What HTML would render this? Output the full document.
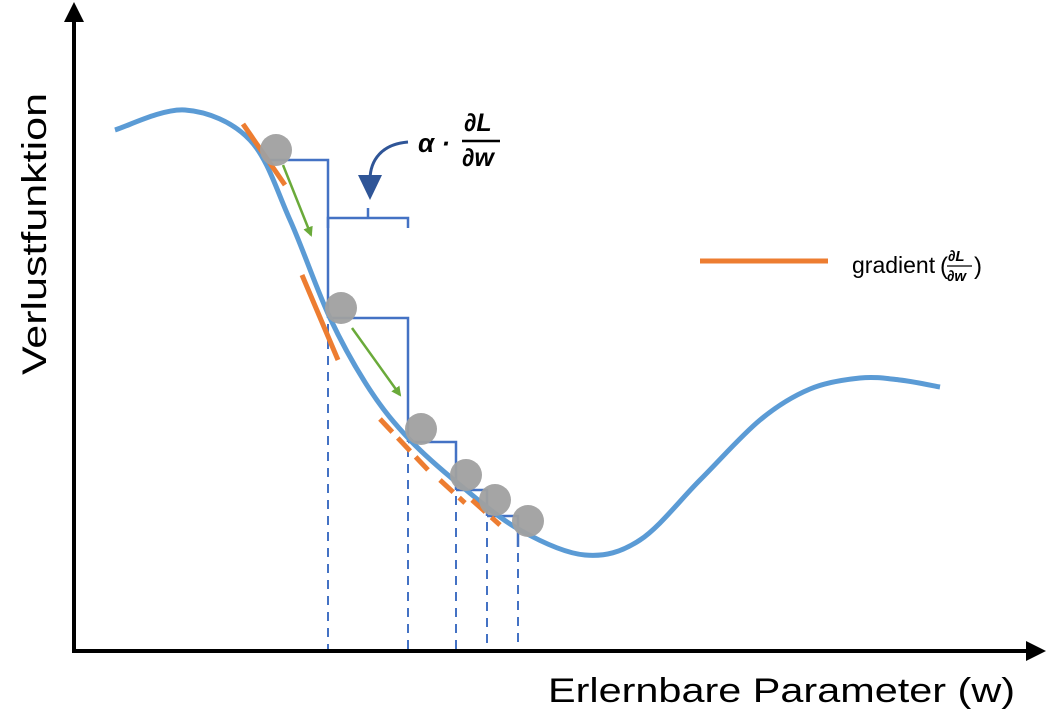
<!DOCTYPE html>
<html><head><meta charset="utf-8"><style>
html,body{margin:0;padding:0;background:#fff;width:1059px;height:720px;overflow:hidden}
svg{display:block}
text{font-family:"Liberation Sans",sans-serif}
</style></head><body>
<svg id="chart" width="1059" height="720" viewBox="0 0 1059 720">
<defs>
<marker id="ah" viewBox="0 0 10 10" refX="5" refY="5" markerWidth="5" markerHeight="5" orient="auto"><path d="M0,0L10,5L0,10z" fill="#000"/></marker>
<marker id="gh" viewBox="0 0 10 10" refX="8" refY="5" markerWidth="4" markerHeight="4" orient="auto"><path d="M0,0L10,5L0,10z" fill="#6aaa3a"/></marker>
</defs>
<g id="steps"></g>
<path id="curve" fill="none" stroke="#5b9bd5" stroke-width="5"/>
<g id="tangents"></g>
<g id="balls"></g>
<g id="arrows"></g>
<line x1="74" y1="652" x2="74" y2="12" stroke="#000" stroke-width="4" marker-end="url(#ah)"/>
<line x1="72" y1="651" x2="1036" y2="651" stroke="#000" stroke-width="4" marker-end="url(#ah)"/>
<text transform="translate(46,375) rotate(-90)" font-size="34" textLength="282" lengthAdjust="spacingAndGlyphs">Verlustfunktion</text>
<text x="548" y="702" font-size="34" textLength="467" lengthAdjust="spacingAndGlyphs">Erlernbare Parameter (w)</text>
<g>
<path d="M328,228V218H408V228M368,218V208" fill="none" stroke="#4472c4" stroke-width="2.5"/>
<path d="M408,142C382,144 370,160 370,180" fill="none" stroke="#2f5597" stroke-width="3"/>
<path d="M358,175L382,175L370,200z" fill="#2f5597"/>
<text x="418" y="152" font-size="26" font-weight="bold" font-style="italic" font-family="Liberation Serif,serif">α ·</text>
<text x="464" y="131" font-size="25" font-weight="bold" font-style="italic" font-family="Liberation Serif,serif">∂L</text>
<line x1="462" y1="141" x2="500" y2="141" stroke="#000" stroke-width="2.5"/>
<text x="462" y="166" font-size="25" font-weight="bold" font-style="italic" font-family="Liberation Serif,serif">∂w</text>
</g>
<g>
<line x1="700" y1="261" x2="828" y2="261" stroke="#ed7d31" stroke-width="5"/>
<text x="852" y="273" font-size="23">gradient</text>
<text x="940" y="274" font-size="24">(</text>
<text x="948" y="261" font-size="15" font-weight="bold" font-style="italic" font-family="Liberation Serif,serif">∂L</text>
<line x1="947" y1="266" x2="972" y2="266" stroke="#000" stroke-width="1.2"/>
<text x="947" y="281" font-size="15" font-weight="bold" font-style="italic" font-family="Liberation Serif,serif">∂w</text>
<text x="974" y="274" font-size="24">)</text>
</g>
</svg>
<script>
const curveX=[115,185,250,290,330,370,410,460,520,585,640,700,760,810,860,900,940];
const curveY=[130,110,140,220,318,390,440,485,530,555,540,480,420,389,378,380,387];
const stepX=[265,328,408,456,487,518];
const stepY=[160,318,442,490,516,547];
const ballX=[276,341,421,466,495,528];
const ballY=[150,308,429,475,500,521];
const tanX1=[243,302,380,440,472];
const tanY1=[124,275,419,480,500];
const tanX2=[285,338,428,465,500];
const tanY2=[185,360,470,503,525];
const ns='http://www.w3.org/2000/svg';
function mk(t,a,p){const e=document.createElementNS(ns,t);for(const k in a)e.setAttribute(k,a[k]);p.appendChild(e);return e;}
let d='M'+curveX[0]+','+curveY[0];
for(let i=0;i<curveX.length-1;i++){
 const x0=curveX[Math.max(i-1,0)],y0=curveY[Math.max(i-1,0)],x1=curveX[i],y1=curveY[i],x2=curveX[i+1],y2=curveY[i+1],x3=curveX[Math.min(i+2,curveX.length-1)],y3=curveY[Math.min(i+2,curveY.length-1)];
 d+=`C${x1+(x2-x0)/6},${y1+(y2-y0)/6} ${x2-(x3-x1)/6},${y2-(y3-y1)/6} ${x2},${y2}`;
}
document.getElementById('curve').setAttribute('d',d);
const sg=document.getElementById('steps');
for(let i=0;i<stepX.length-1;i++){
 const p=mk('path',{d:`M${stepX[i]},${stepY[i]}H${stepX[i+1]}V${stepY[i+1]}`,fill:'none',stroke:'#4472c4','stroke-width':2.5},sg);
 
 
 const l=mk('line',{x1:stepX[i+1],y1:stepY[i+1]+6,x2:stepX[i+1],y2:649,stroke:'#4472c4','stroke-width':2,'stroke-dasharray':'9 7'},sg);
 
 
}
const tg=document.getElementById('tangents');
for(let i=0;i<tanX1.length;i++){
 const a={x1:tanX1[i],y1:tanY1[i],x2:tanX2[i],y2:tanY2[i],stroke:'#ed7d31','stroke-width':5};
 if(i>=2)a['stroke-dasharray']='18 8';
 const l=mk('line',a,tg);
 
 
}
const bg=document.getElementById('balls');
for(let i=0;i<ballX.length;i++){
 const c=mk('circle',{cx:ballX[i],cy:ballY[i],r:16,fill:'#a0a0a0','fill-opacity':0.95},bg);
 
 
}
const ag=document.getElementById('arrows');
[[283,165,311,235],[352,328,400,395]].forEach(a=>{
 const l=mk('line',{x1:a[0],y1:a[1],x2:a[2],y2:a[3],stroke:'#6aaa3a','stroke-width':2.5,'marker-end':'url(#gh)'},ag);
 
 
});
</script>
</body></html>
